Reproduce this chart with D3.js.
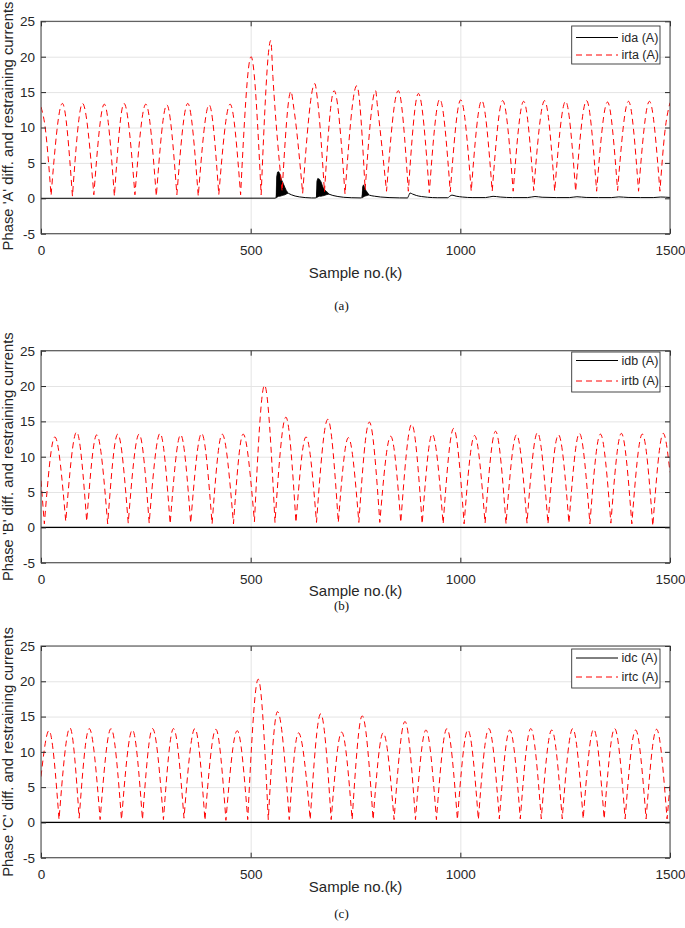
<!DOCTYPE html>
<html>
<head>
<meta charset="utf-8">
<script src="https://cdn.jsdelivr.net/npm/d3@7"></script>
<style>
  body { margin: 0; background: #fff; }
  svg text { font-family: "Liberation Sans", Arial, Helvetica, sans-serif; fill: #262626; }
  .caption { font-family: "Liberation Serif", "Times New Roman", serif !important; }
</style>
</head>
<body>
<div id="chart"></div>
<script>
// axis ticks
const sampleTicks = [0, 500, 1000, 1500]
const currentTicks = [-5, 0, 5, 10, 15, 20, 25]

// phase A restraining current: troughs, crests and shoulders [sample, A]
const irta = [
  [0, 12.9], [10, 10.0], [24, 0.4],
  [51, 13.4], [75, 0.3], [99, 13.4], [126, 0.5], [151, 13.3], [175, 0.3],
  [198, 13.4], [224, 0.5], [250, 13.3], [275, 0.3], [300, 13.2], [324, 0.5],
  [350, 13.4], [375, 0.3], [401, 13.2], [424, 0.5], [451, 13.3], [476, 0.5],
  [501, 20.0], [525, 0.5], [548, 22.3], [553, 17.2], [575, 1.0],
  [596, 15.1], [603, 12.7], [624, 0.7], [653, 16.2], [659, 14.1], [676, 0.9],
  [699, 15.2], [725, 0.6], [753, 15.9], [773, 1.2], [798, 15.2], [802, 13.2], [824, 1.0],
  [852, 15.2], [876, 1.0], [900, 14.8], [926, 0.8], [951, 14.0], [976, 0.9],
  [1001, 13.9], [1026, 1.0], [1051, 13.8], [1076, 1.0], [1101, 13.8], [1126, 1.0],
  [1151, 13.7], [1175, 1.1], [1201, 13.8], [1225, 1.0], [1251, 13.7], [1275, 1.0],
  [1301, 13.8], [1325, 1.0], [1351, 13.6], [1375, 1.1], [1401, 13.7], [1425, 1.0],
  [1451, 13.7], [1476, 1.0], [1488, 9.5], [1500, 13.5]
]

// phase A differential current, slow trace
const ida = [
  [0, 0], [559, 0.02], [561, 0.2], [563, 1.5], [566, 2.0], [572, 1.4], [578, 1.0], [584, 0.8],
  [590, 0.7], [597, 0.5], [606, 0.32], [616, 0.2], [630, 0.1], [645, 0.05], [655, 0.05],
  [657, 0.3], [660, 1.4], [668, 1.2], [676, 0.9], [686, 0.6], [696, 0.4], [708, 0.25],
  [722, 0.14], [740, 0.08], [764, 0.05], [766, 0.3], [768, 1.0], [775, 0.7], [783, 0.45],
  [795, 0.3], [810, 0.18], [830, 0.1], [855, 0.06], [874, 0.05], [877, 0.4], [880, 0.75],
  [886, 0.6], [895, 0.4], [907, 0.25], [922, 0.15], [945, 0.08], [970, 0.08], [975, 0.3],
  [980, 0.45], [990, 0.3], [1005, 0.18], [1030, 0.1], [1060, 0.1], [1078, 0.28], [1095, 0.18],
  [1125, 0.1], [1160, 0.1], [1178, 0.25], [1195, 0.15], [1230, 0.1], [1260, 0.1], [1278, 0.22],
  [1300, 0.12], [1330, 0.1], [1360, 0.1], [1378, 0.2], [1400, 0.12], [1430, 0.1], [1460, 0.1],
  [1478, 0.18], [1500, 0.12]
]

// phase A inrush bursts, envelope [sample, low, high]
const idaBursts = [
  [[561, 0.1, 0.3], [562, 0.1, 3.0], [564, 0.2, 3.7], [567, 0.3, 3.75], [570, 0.3, 3.4], [573, 0.35, 2.7],
   [576, 0.4, 2.3], [579, 0.45, 1.9], [582, 0.5, 1.5], [585, 0.6, 1.1], [588, 0.7, 0.85]],
  [[657, 0.1, 0.4], [658, 0.1, 2.4], [660, 0.2, 2.8], [664, 0.3, 2.7], [668, 0.3, 2.3], [672, 0.35, 1.6],
   [676, 0.4, 1.2], [680, 0.5, 1.0], [684, 0.55, 0.8], [686, 0.6, 0.65]],
  [[766, 0.1, 0.3], [767, 0.1, 1.6], [769, 0.2, 1.9], [772, 0.3, 1.5], [775, 0.35, 1.1],
   [778, 0.4, 0.85], [781, 0.45, 0.6]]
]

const irtb = [
  [0, 6.6], [8, 0.5],
  [33, 12.8], [59, 0.85], [85, 13.5], [109, 0.85], [133, 13.1], [159, 0.5],
  [183, 13.2], [208, 0.6], [234, 13.2], [258, 0.6], [284, 13.3], [308, 0.5],
  [333, 13.1], [357, 0.6], [383, 13.3], [408, 0.5], [432, 13.2], [459, 0.5],
  [482, 13.2], [509, 0.8], [533, 20.1], [558, 0.7], [584, 15.6], [608, 0.7],
  [632, 12.8], [657, 0.7], [684, 15.3], [709, 0.7], [733, 12.7], [758, 0.7],
  [783, 14.9], [808, 0.7], [834, 12.9], [858, 0.7], [884, 14.6], [909, 0.5],
  [933, 13.2], [959, 0.5], [984, 14.0], [1009, 0.5], [1034, 13.0], [1059, 0.6],
  [1084, 13.6], [1109, 0.5], [1134, 13.1], [1159, 0.6], [1184, 13.4], [1209, 0.5],
  [1234, 13.1], [1259, 0.6], [1284, 13.3], [1309, 0.5], [1334, 13.2], [1359, 0.6],
  [1384, 13.3], [1409, 0.5], [1434, 13.2], [1459, 0.2], [1484, 13.3], [1500, 7.8]
]
const idb = [[0, 0], [1500, 0]]

const irtc = [
  [0, 6.5], [19, 13.0], [43, 0.4],
  [69, 13.4], [91, 0.6], [115, 13.3], [141, 0.4], [167, 13.3], [192, 0.4],
  [218, 13.1], [242, 0.4], [266, 13.3], [292, 0.4], [316, 13.3], [341, 0.6],
  [367, 13.3], [391, 0.3], [417, 13.2], [441, 0.3], [468, 13.0], [493, 0.4],
  [518, 20.3], [542, 0.4], [564, 15.7], [592, 0.4], [614, 12.7], [642, 0.4],
  [667, 15.4], [692, 0.4], [717, 12.8], [742, 0.4], [766, 15.1], [792, 0.4],
  [816, 12.7], [842, 0.4], [868, 14.3], [893, 0.4], [918, 13.1], [943, 0.4],
  [968, 13.3], [993, 0.4], [1018, 13.1], [1043, 0.4], [1068, 13.3], [1093, 0.5],
  [1118, 13.1], [1143, 0.5], [1168, 13.3], [1193, 0.5], [1218, 13.1], [1243, 0.5],
  [1268, 13.3], [1293, 0.5], [1318, 13.2], [1343, 0.5], [1368, 13.3], [1393, 0.5],
  [1418, 13.1], [1443, 0.5], [1468, 13.2], [1493, 0.5], [1500, 5.2]
]
const idc = [[0, 0], [1500, 0]]

const panels = [
  { name: "a", phase: "A", top: 21.3, bottom: 233.7, ylabelY: 126, xlabelY: 272.5, capY: 305,
    legTop: 26, legBottom: 64, legRows: [37.5, 55], diff: ida, bursts: idaBursts, restr: irta,
    labels: ["ida (A)", "irta (A)"] },
  { name: "b", phase: "B", top: 350.7, bottom: 562.7, ylabelY: 456.7, xlabelY: 591, capY: 605.5,
    legTop: 352, legBottom: 392, legRows: [360.5, 381], diff: idb, bursts: [], restr: irtb,
    labels: ["idb (A)", "irtb (A)"] },
  { name: "c", phase: "C", top: 646, bottom: 857.7, ylabelY: 752, xlabelY: 887, capY: 913,
    legTop: 649, legBottom: 688, legRows: [658, 677], diff: idc, bursts: [], restr: irtc,
    labels: ["idc (A)", "irtc (A)"] }
]

const W = 685, H = 928
const left = 41, right = 670
const dash = "6,4"

const svg = d3.select("#chart").append("svg")
  .attr("width", W).attr("height", H)
  .style("display", "block")

svg.append("rect").attr("width", W).attr("height", H).attr("fill", "#fff")

const x = d3.scaleLinear().domain([0, 1500]).range([left, right])
const plain = d => String(d)

panels.forEach(p => {
  const y = d3.scaleLinear().domain([-5, 25]).range([p.bottom, p.top])
  const g = svg.append("g").attr("class", "panel-" + p.name)

  g.append("clipPath").attr("id", "clip-" + p.name)
    .append("rect")
    .attr("x", left).attr("y", p.top)
    .attr("width", right - left).attr("height", p.bottom - p.top)

  //grid
  g.append("g")
    .attr("transform", "translate(" + left + ",0)")
    .call(d3.axisLeft(y).tickValues(currentTicks).tickSize(-(right - left)).tickFormat(""))
    .call(s => s.select(".domain").remove())
    .selectAll("line").attr("stroke", "#e4e4e4")

  g.append("g")
    .attr("transform", "translate(0," + p.bottom + ")")
    .call(d3.axisBottom(x).tickValues(sampleTicks).tickSize(-(p.bottom - p.top)).tickFormat(""))
    .call(s => s.select(".domain").remove())
    .selectAll("line").attr("stroke", "#e4e4e4")

  const plot = g.append("g").attr("clip-path", "url(#clip-" + p.name + ")")

  //differential current
  const diffLine = d3.line()
    .x(d => x(d[0])).y(d => y(d[1]))
    .curve(d3.curveMonotoneX)

  plot.append("path")
    .datum(p.diff)
    .attr("d", diffLine)
    .attr("fill", "none")
    .attr("stroke", "#000")
    .attr("stroke-width", p.bursts.length ? 1 : 1.3)

  const burstArea = d3.area()
    .x(d => x(d[0])).y0(d => y(d[1])).y1(d => y(d[2]))

  plot.selectAll(".burst")
    .data(p.bursts)
    .enter()
    .append("path")
    .attr("class", "burst")
    .attr("d", burstArea)
    .attr("fill", "#000")
    .attr("stroke", "#000")
    .attr("stroke-width", 0.8)

  //restraining current: each lobe between two troughs is its own monotone spline
  const lobes = []
  let cur = []
  p.restr.forEach((d, i) => {
    cur.push(d)
    if (d[1] < 3 && i > 0 && i < p.restr.length - 1) {
      lobes.push(cur)
      cur = [d]
    }
  })
  lobes.push(cur)

  const lobeLine = d3.line()
    .x(d => x(d[0])).y(d => y(d[1]))
    .curve(d3.curveMonotoneX)

  const pathD = lobes.map((l, i) => {
    const s = lobeLine(l)
    return i ? s.replace(/^M/, "L") : s
  }).join("")

  plot.append("path")
    .attr("d", pathD)
    .attr("fill", "none")
    .attr("stroke", "#ff0000")
    .attr("stroke-width", 1)
    .attr("stroke-dasharray", dash)

  //axes box and ticks
  const axisStyle = s => {
    s.select(".domain").remove()
    s.selectAll("line").attr("stroke", "#262626")
    s.selectAll("text").attr("fill", "#262626").style("font-size", "13.5px")
      .style("font-family", '"Liberation Sans", Arial, sans-serif')
  }

  g.append("g")
    .attr("transform", "translate(" + left + ",0)")
    .call(d3.axisLeft(y).tickValues(currentTicks).tickSize(-5).tickPadding(6).tickFormat(plain))
    .call(axisStyle)

  g.append("g")
    .attr("transform", "translate(" + right + ",0)")
    .call(d3.axisRight(y).tickValues(currentTicks).tickSize(-5).tickFormat(""))
    .call(axisStyle)

  g.append("g")
    .attr("transform", "translate(0," + p.bottom + ")")
    .call(d3.axisBottom(x).tickValues(sampleTicks).tickSize(-5).tickPadding(11.5).tickFormat(plain))
    .call(axisStyle)

  g.append("g")
    .attr("transform", "translate(0," + p.top + ")")
    .call(d3.axisTop(x).tickValues(sampleTicks).tickSize(-5).tickFormat(""))
    .call(axisStyle)

  g.append("rect")
    .attr("x", left).attr("y", p.top)
    .attr("width", right - left).attr("height", p.bottom - p.top)
    .attr("fill", "none")
    .attr("stroke", "#404040")
    .attr("stroke-width", 1)

  //labels
  g.append("text")
    .attr("x", (left + right) / 2)
    .attr("y", p.xlabelY)
    .attr("dy", "0.35em")
    .attr("text-anchor", "middle")
    .style("font-size", "15px")
    .text("Sample no.(k)")

  g.append("text")
    .attr("transform", "translate(12.5," + p.ylabelY + ") rotate(-90)")
    .attr("text-anchor", "middle")
    .style("font-size", "14.8px")
    .text("Phase '" + p.phase + "' diff. and restraining currents")

  g.append("text")
    .attr("class", "caption")
    .attr("x", 341.5)
    .attr("y", p.capY)
    .attr("dy", "0.35em")
    .attr("text-anchor", "middle")
    .style("font-size", "13px")
    .style("fill", "#111")
    .text("(" + p.name + ")")

  //legend
  const leg = g.append("g")
  leg.append("rect")
    .attr("x", 571.7).attr("y", p.legTop)
    .attr("width", 88.3).attr("height", p.legBottom - p.legTop)
    .attr("fill", "#fff")
    .attr("stroke", "#333")
    .attr("stroke-width", 0.9)

  p.labels.forEach((lab, i) => {
    leg.append("line")
      .attr("x1", 576).attr("x2", 618)
      .attr("y1", p.legRows[i]).attr("y2", p.legRows[i])
      .attr("stroke", i ? "#ff0000" : "#000")
      .attr("stroke-width", 1)
      .attr("stroke-dasharray", i ? dash : null)
    leg.append("text")
      .attr("x", 621.5)
      .attr("y", p.legRows[i])
      .attr("dy", "0.35em")
      .style("font-size", "12.5px")
      .text(lab)
  })
})
</script>
</body>
</html>
